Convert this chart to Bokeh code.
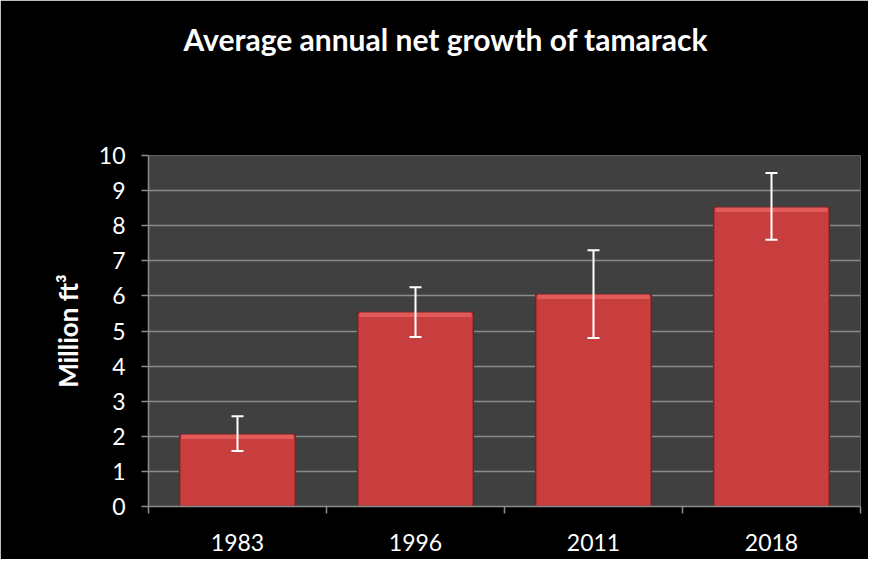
from bokeh.plotting import figure
from bokeh.models import Range1d, FixedTicker, Whisker, ColumnDataSource, TeeHead, Title
from bokeh.embed import file_html
from bokeh.resources import INLINE

years = ["1983", "1996", "2011", "2018"]
growth = [2.05, 5.53, 6.04, 8.52]
err_low = [1.58, 4.83, 4.80, 7.60]
err_high = [2.57, 6.25, 7.30, 9.50]
y_ticks = [0, 1, 2, 3, 4, 5, 6, 7, 8, 9, 10]
title_text = "Average annual net growth of tamarack"

xs = [i + 0.5 for i in range(len(years))]
bounds = list(range(len(years) + 1))

src = ColumnDataSource(dict(x=xs, top=growth, lo=err_low, hi=err_high,
                            strip_bottom=[g - 0.13 for g in growth]))

FONT = "Lato"

p = figure(width=868, height=559, output_backend="svg", toolbar_location=None,
           x_range=Range1d(0, len(years)), y_range=Range1d(0, 10),
           min_border_left=148, min_border_right=8, min_border_top=155,
           min_border_bottom=53)

p.background_fill_color = "#404040"
p.border_fill_color = "#000000"
p.outline_line_color = None

# spacer between the title and the plot frame, then the title itself
spacer = Title(text=" ", text_font=FONT, text_font_size="30px", standoff=56,
               text_color="black")
p.add_layout(spacer, "above")
t = Title(text=title_text, align="left", offset=35, standoff=10,
          text_color="white", text_font=FONT, text_font_size="30px",
          text_font_style="bold")
p.add_layout(t, "above")

# bars
p.vbar(x="x", top="top", bottom=0, width=0.65, source=src,
       fill_color="#C83E3E", line_color="#7A2020", line_width=1.5)
p.vbar(x="x", top="top", bottom="strip_bottom", width=0.63, source=src,
       fill_color="#E25A5A", line_color=None)

w = Whisker(base="x", lower="lo", upper="hi", source=src, line_color="white",
            line_width=2, level="overlay",
            upper_head=TeeHead(size=12, line_color="white", line_width=2),
            lower_head=TeeHead(size=12, line_color="white", line_width=2))
p.add_layout(w)

# grid
p.xgrid.grid_line_color = None
p.ygrid.grid_line_color = "#8C8C8C"
p.ygrid.grid_line_width = 1.5
p.ygrid.ticker = FixedTicker(ticks=y_ticks)

# y axis
p.yaxis.ticker = FixedTicker(ticks=y_ticks)
p.yaxis.axis_line_color = "#8C8C8C"
p.yaxis.axis_line_width = 1.5
p.yaxis.major_tick_line_color = "#8C8C8C"
p.yaxis.major_tick_line_width = 1.5
p.yaxis.major_tick_in = 0
p.yaxis.major_tick_out = 7
p.yaxis.minor_tick_line_color = None
p.yaxis.major_label_text_color = "white"
p.yaxis.major_label_text_font = FONT
p.yaxis.major_label_text_font_size = "23px"
p.yaxis.major_label_standoff = 16
p.yaxis.axis_label = "Million ft³"
p.yaxis.axis_label_text_color = "white"
p.yaxis.axis_label_text_font = FONT
p.yaxis.axis_label_text_font_size = "26px"
p.yaxis.axis_label_text_font_style = "bold"
p.yaxis.axis_label_standoff = 12

# x axis: labels at centres, ticks at category boundaries
p.xaxis.ticker = FixedTicker(ticks=xs, minor_ticks=bounds)
p.xaxis.major_label_overrides = {x: y for x, y in zip(xs, years)}
p.xaxis.axis_line_color = "#8C8C8C"
p.xaxis.axis_line_width = 1.5
p.xaxis.major_tick_line_color = None
p.xaxis.minor_tick_line_color = "#8C8C8C"
p.xaxis.minor_tick_line_width = 1.5
p.xaxis.minor_tick_in = 0
p.xaxis.minor_tick_out = 7
p.xaxis.major_label_text_color = "white"
p.xaxis.major_label_text_font = FONT
p.xaxis.major_label_text_font_size = "23px"
p.xaxis.major_label_standoff = 20

open("out.html", "w").write(file_html(p, INLINE))
